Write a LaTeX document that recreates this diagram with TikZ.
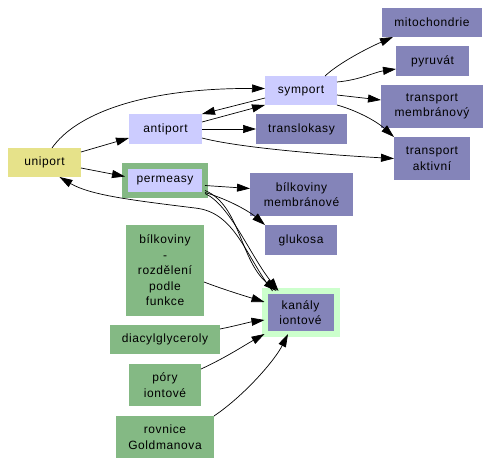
\documentclass[tikz,border=0pt]{standalone}
\usepackage{fontspec}
\newfontfamily\lblfont{Liberation Sans}[LetterSpace=5]
\usetikzlibrary{arrows.meta,calc}
\definecolor{ylw}{RGB}{230,226,138}
\definecolor{ltlav}{RGB}{204,204,255}
\definecolor{dklav}{RGB}{132,132,185}
\definecolor{grn}{RGB}{132,185,132}
\definecolor{ltgrn}{RGB}{204,255,204}
\begin{document}
\begin{tikzpicture}[x=1pt,y=-1pt,
  box/.style={rectangle,inner sep=0pt,outer sep=0pt,align=center,
    font=\lblfont\fontsize{12}{15.5}\selectfont},
  yb/.style={box,fill=ylw},
  lb/.style={box,fill=ltlav},
  db/.style={box,fill=dklav},
  gb/.style={box,fill=grn},
  arr/.style={-{Triangle[length=13pt,width=8pt]},line width=0.7pt}]
\fill[white] (0,0) rectangle (490,466);
\useasboundingbox (0,0) rectangle (490,466);
% nodes
\node[yb,minimum width=73pt,minimum height=29pt] (uni) at (44.5,162.5) {uniport};
\node[lb,minimum width=73pt,minimum height=30pt] (anti) at (165.5,129) {antiport};
\node[lb,draw=grn,line width=6pt,minimum width=80pt,minimum height=29pt] (perm) at (165,180.5) {permeasy};
\node[lb,minimum width=72pt,minimum height=29pt] (sym) at (301,90.5) {symport};
\node[db,minimum width=91pt,minimum height=30pt] (trl) at (301.5,129) {translokasy};
\node[db,minimum width=100pt,minimum height=29pt] (mito) at (432,22.5) {mitochondrie};
\node[db,minimum width=73pt,minimum height=30pt] (pyr) at (432.5,61) {pyruvát};
\node[db,minimum width=102pt,minimum height=43pt] (tmem) at (432,106.5) {transport\\membránový};
\node[db,minimum width=76pt,minimum height=43pt] (takt) at (432,158.5) {transport\\aktivní};
\node[db,minimum width=103pt,minimum height=43pt] (bmem) at (301.5,194.5) {bílkoviny\\membránové};
\node[db,minimum width=72pt,minimum height=30pt] (glu) at (301,240) {glukosa};
\node[db,draw=ltgrn,line width=6pt,minimum width=72pt,minimum height=43pt] (kan) at (300.5,312.5) {kanály\\iontové};
\node[gb,minimum width=78pt,minimum height=91pt] (brf) at (165,270.5) {bílkoviny\\-\\rozdělení\\podle\\funkce};
\node[gb,minimum width=110pt,minimum height=29pt] (dia) at (165,339.5) {diacylglyceroly};
\node[gb,minimum width=72pt,minimum height=42pt] (por) at (165,385) {póry\\iontové};
\node[gb,minimum width=98pt,minimum height=42pt] (rov) at (165,437) {rovnice\\Goldmanova};
% edges
\draw[arr] ($(uni.east)+(0,-10.5)$) -- ($(anti.west)+(0,9)$);
\draw[arr] ($(uni.east)+(0,5.5)$) -- ($(perm.west)+(0,-4)$);
\draw[arr] ($(uni.north)+(7.5,0)$) .. controls (75,115) and (140,88) .. ($(sym.west)+(0,-2)$);
\draw[arr] ($(anti.east)+(0,-7)$) -- (sym.south west);
\draw[arr] ($(sym.west)+(0,7.5)$) -- (anti.north east);
\draw[arr] (anti.east) -- (trl.west);
\draw[arr] ($(anti.east)+(0,9)$) .. controls (240,148) and (330,155) .. (takt.west);
\draw[arr] ($(sym.north)+(24,0)$) .. controls (340,62) and (370,47) .. ($(mito.south west)+(11,0)$);
\draw[arr] ($(sym.east)+(0,-8.5)$) .. controls (360,80) and (375,72) .. ($(pyr.west)+(0,8)$);
\draw[arr] ($(sym.east)+(0,4.5)$) -- ($(tmem.west)+(0,-6.5)$);
\draw[arr] (sym.south east) .. controls (355,110) and (375,120) .. (takt.north west);
\draw[arr] ($(perm.east)+(0,5)$) -- ($(bmem.west)+(0,-6)$);
\draw[arr] ($(perm.east)+(0,12)$) .. controls (230,200) and (250,212) .. (glu.north west);
\draw[arr] ($(perm.east)+(0,10)$) .. controls (240,205) and (240,260) .. ($(kan.north)+(-24,0)$);
\draw[arr] ($(perm.east)+(0,13)$) .. controls (230,205) and (250,255) .. ($(kan.north)+(-22,0)$);
\draw[arr] ($(kan.north)+(-28,0)$) .. controls (245,255) and (235,212) .. (195,208) .. controls (130,200) and (90,195) .. ($(uni.south)+(15,0)$);
\draw[arr] ($(brf.east)+(0,11.5)$) .. controls (225,290) and (245,296) .. ($(kan.west)+(0,-10.5)$);
\draw[arr] ($(dia.east)+(0,-10.5)$) .. controls (235,326) and (250,322) .. ($(kan.west)+(0,7.5)$);
\draw[arr] ($(por.east)+(0,-16)$) .. controls (225,358) and (245,345) .. (kan.south west);
\draw[arr] (rov.north east) .. controls (245,395) and (275,360) .. ($(kan.south)+(-12.5,0)$);
\end{tikzpicture}
\end{document}
